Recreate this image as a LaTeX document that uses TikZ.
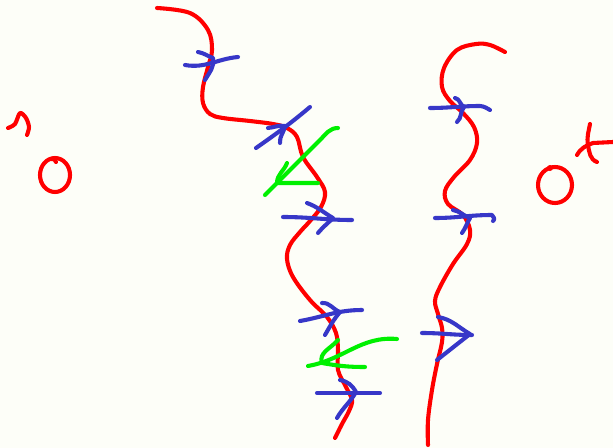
\documentclass[tikz,border=0pt]{standalone}
\definecolor{paper}{RGB}{253,254,248}
\definecolor{inkred}{RGB}{255,0,0}
\definecolor{inkblue}{RGB}{55,55,200}
\definecolor{inkgreen}{RGB}{0,240,0}
\tikzset{
  pen/.style={line width=2.9pt, line cap=round, line join=round},
  redpen/.style={pen, inkred},
  bluepen/.style={pen, inkblue},
  greenpen/.style={pen, inkgreen}
}
\begin{document}
\begin{tikzpicture}[x=0.025cm, y=-0.025cm]
    \fill[paper] (0,0) rectangle (613,448);
    \useasboundingbox (0,0) rectangle (613,448);

	% left boundary marks
	\draw[redpen] plot[smooth] coordinates {(8,128) (15,124) (20,113) (26,118) (29,127) (27,135)};
	\draw[redpen] (55,175) circle [x radius=15, y radius=17];
	\draw[redpen] (51,159) to[out=20, in=90] (56,162);

	% right boundary marks
	\draw[redpen] (555,185) circle [x radius=17, y radius=18];
	\fill[inkred] (550,168) circle [radius=3];
	\draw[redpen] (590,124) to[out=-100, in=100] (588,145) to[out=-80, in=160] (597,162);
	\draw[redpen] (577,155) to[out=60, in=200] (593,143) -- (613,142);

	% left curve
	\draw[redpen] plot[smooth, tension=0.6] coordinates {(157,8) (190,13) (208,30) (212,50) (208,67)
		(203,87) (203,103) (210,114) (223,118) (250,121) (273,124) (287,128) (297,137)
		(303,157) (317,177) (325,192) (321,207) (310,221) (300,232) (290,245) (287,259)
		(293,277) (310,300) (327,317) (336,333) (338,350) (338,370) (346,387) (352,400)
		(349,411) (342,424) (335,438)};

	% right curve
	\draw[redpen] plot[smooth, tension=0.6] coordinates {(505,52) (490,45) (476,44) (457,50)
		(444,68) (442,87) (450,101) (463,113) (474,127) (477,143) (470,160) (454,177)
		(445,191) (448,204) (463,215) (470,230) (467,244) (453,264) (440,287) (435,301)
		(438,314) (442,328) (442,342) (437,364) (432,390) (428,420) (428,445)};

	% blue arrows across the left curve
	\draw[bluepen] (185,65) to[out=-10, in=185] (238,57);
	\draw[bluepen] (198,52) to[out=-10, in=160] (213,58) to[out=-80, in=60] (205,80);
	\draw[bluepen] (256,148) to[out=35, in=-140] (310,107);
	\draw[bluepen] (268,128) to[out=5, in=170] (285,126) to[out=-100, in=95] (280,143);
	\draw[bluepen] (283,217) to[out=0, in=180] (352,220);
	\draw[bluepen] (307,203) to[out=-20, in=150] (333,218) to[out=-135, in=50] (318,233);
	\draw[bluepen] (300,321) to[out=10, in=180] (362,310);
	\draw[bluepen] (322,303) to[out=5, in=160] (340,312) to[out=-130, in=60] (325,335);
	\draw[bluepen] (317,393) to[out=0, in=180] (380,393);
	\draw[bluepen] (340,380) to[out=-10, in=120] (356,392) to[out=-120, in=60] (337,418);

	% blue arrows across the right curve
	\draw[bluepen] (430,108) to[out=0, in=180] (480,106) to[out=-5, in=150] (490,110);
	\draw[bluepen] (455,98) to[out=-10, in=150] (464,107) to[out=-130, in=40] (457,122);
	\draw[bluepen] (435,218) to[out=0, in=180] (492,215) to[out=-30, in=30] (493,221);
	\draw[bluepen] (453,210) to[out=-10, in=160] (470,218) to[out=-120, in=55] (462,233);
	\draw[bluepen] (422,333) to[out=0, in=180] (472,335);
	\draw[bluepen] (438,317) to[out=-10, in=150] (470,334) -- (437,360);

	% green arrows
	\draw[greenpen] (338,128) to[out=180, in=45] (320,140) -- (265,195);
	\draw[greenpen] (287,163) to[out=-110, in=90] (277,183) to[out=0, in=180] (318,183);
	\draw[greenpen] (397,339) to[out=175, in=10] (308,366);
	\draw[greenpen] (338,340) to[out=-130, in=110] (322,363) to[out=-10, in=180] (365,367);
\end{tikzpicture}
\end{document}
